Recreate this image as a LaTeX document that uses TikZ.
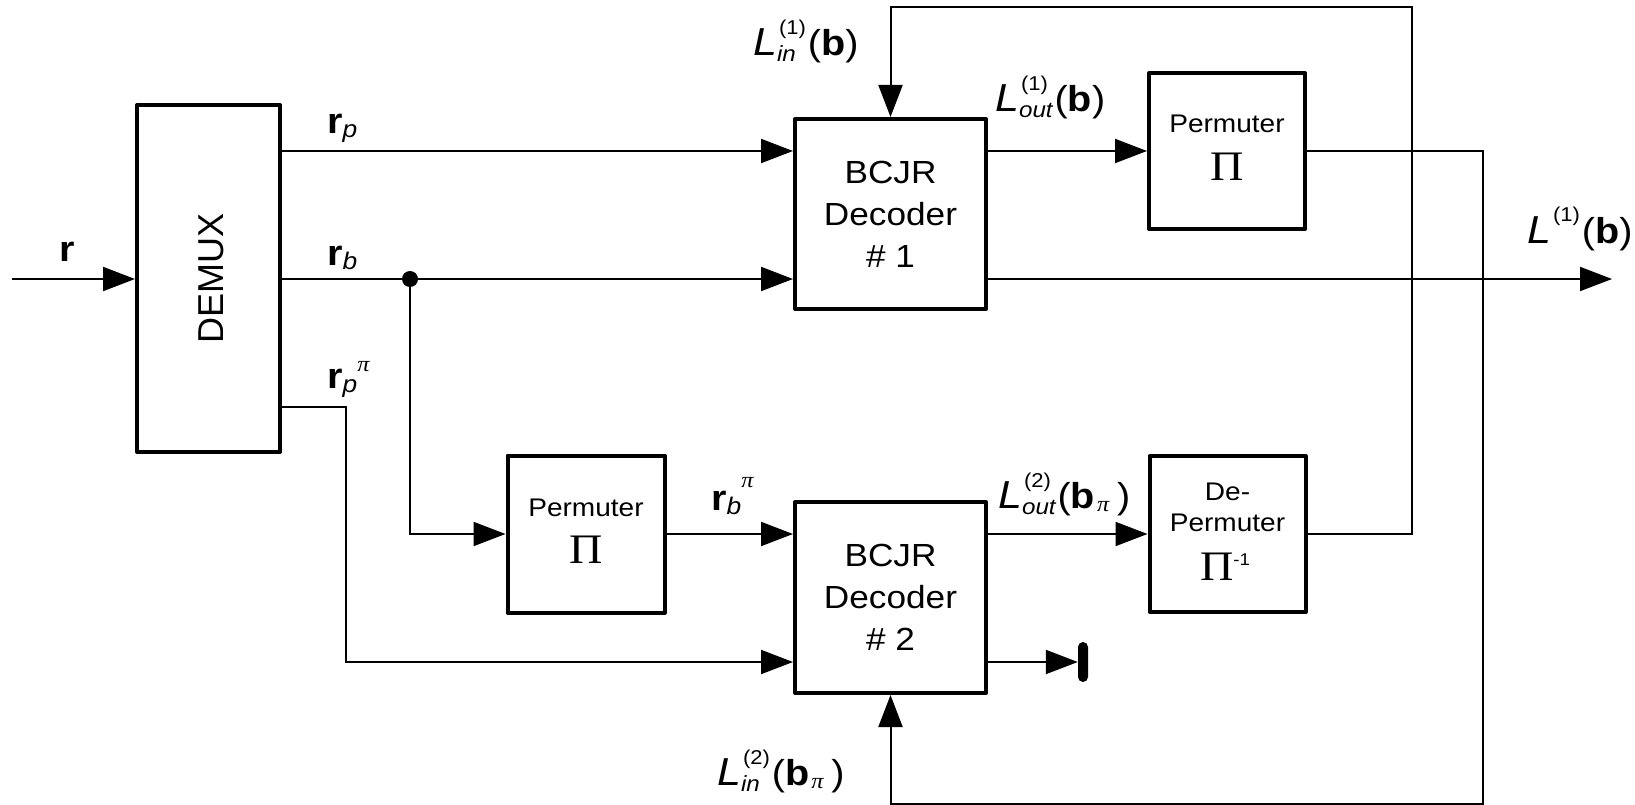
\documentclass[tikz,border=0pt]{standalone}
\usepackage{fontspec}
\setmainfont{Liberation Sans}[FakeStretch=1.1]
\newfontfamily\plainsans{Liberation Sans}
\newfontfamily\grk{Liberation Serif}[FakeStretch=1.1]
\usetikzlibrary{arrows.meta}

\newcommand\fsz[1]{\fontsize{#1}{#1}\selectfont}
% bold r with an italic subscript
\newcommand\rsym[1]{{\fsz{36}\bfseries r}\raisebox{-4pt}{\fsz{24}\itshape #1}}
% serif italic pi, raised by #1
\newcommand\pitop[1]{\raisebox{#1}{\fsz{22}\grk\itshape π}}
% superscript and subscript stacked at the same place
\newcommand\supsub[2]{%
  \setbox0\hbox{\kern2pt\raisebox{21pt}{\fsz{20}#1}}%
  \setbox2\hbox{\raisebox{-6pt}{\fsz{22}\itshape #2}}%
  \ifdim\wd0>\wd2 \rlap{\copy2}\copy0\else\rlap{\copy0}\copy2\fi}
\newcommand\Lsym[3]{{\fsz{39}\itshape L}\supsub{(#1)}{#2}\kern2pt{\fsz{36}(#3)}}
\newcommand\bsym{\textbf{b}}
\newcommand\bpisym{\textbf{b}\kern2pt\raisebox{-3pt}{\fsz{22}\grk\itshape π}\kern8pt}

\begin{document}
\begin{tikzpicture}[x=1pt,y=-1pt,
  blk/.style={draw,line width=4pt,line join=round,inner sep=0pt},
  wire/.style={line width=2pt},
  arr/.style={wire,-{Triangle[length=32pt,width=24pt]}},
  lbl/.style={inner sep=0pt,anchor=base west},
  txt/.style={inner sep=0pt,anchor=base}]
\useasboundingbox (0,0) rectangle (1635,805);

% blocks
\node[blk,minimum width=143pt,minimum height=347pt] (demux) at (208.5,278.5) {};
\node[blk,minimum width=191pt,minimum height=190pt] (dec1) at (890.5,214) {};
\node[blk,minimum width=191pt,minimum height=191pt] (dec2) at (890.5,597.5) {};
\node[blk,minimum size=156pt] (perm1) at (1227,151) {};
\node[blk,minimum size=157pt] (perm2) at (586,534) {};
\node[blk,minimum size=156pt] (deperm) at (1227.5,534) {};
\node[fill,rounded corners=5pt,minimum width=10pt,minimum height=40pt,inner sep=0pt] (stop) at (1083,662) {};

% block texts
\node[font=\plainsans\fsz{36},rotate=90,inner sep=0pt] (demuxtext) at (211.5,278) {DEMUX};
\node[font=\fontsize{32}{42}\selectfont,align=center,inner sep=0pt] (dec1text) at (dec1) {BCJR\\Decoder\\\# 1};
\node[font=\fontsize{32}{42}\selectfont,align=center,inner sep=0pt] (dec2text) at (dec2) {BCJR\\Decoder\\\# 2};
\node[txt,font=\fsz{25.5}] (perm1a) at (1227,132.3) {Permuter};
\node[txt,font=\grk\fsz{42}] (perm1b) at (1227,180.7) {Π};
\node[txt,font=\fsz{25.5}] (perm2a) at (586,516) {Permuter};
\node[txt,font=\grk\fsz{42}] (perm2b) at (586,563.5) {Π};
\node[txt,font=\fsz{25.5}] (depa) at (1227.5,500) {De-};
\node[txt,font=\fsz{25.5}] (depb) at (1227.5,531.7) {Permuter};
\node[txt] (depc) at (1225,580) {{\grk\fsz{42}Π}\raisebox{15pt}{\fsz{17}-1}};

% wire rows and corners
\coordinate (rin) at (12,279);
\coordinate (out) at (1612,279);
\coordinate (yp) at (0,151);
\coordinate (yb) at (0,279);
\coordinate (ypp) at (0,407);
\coordinate (yq) at (0,662);
\coordinate (kp) at (346,662);
\coordinate (fbR) at (1483,803.5);
\coordinate (fbT) at (1412,7);

% connectors
\draw[arr] (rin) -- (rin -| demux.west);
\draw[arr] (demux.east |- yp) -- (dec1.west |- yp);
\draw[arr] (demux.east |- yb) -- (dec1.west |- yb);
\draw[arr] (dec1.east |- yp) -- (perm1.west);
\draw[arr] (dec1.east |- yb) -- (out);
\node[circle,fill,inner sep=0pt,minimum size=16pt] (dot) at (410,279) {};
\draw[arr] (dot.center) |- (perm2.west);
\draw[arr] (perm2.east) -- (dec2.west |- perm2.east);
\draw[arr] (dec2.east |- deperm.west) -- (deperm.west);
\draw[arr] (demux.east |- ypp) -| (kp) -- (kp -| dec2.west);
\draw[arr] (dec2.east |- yq) -- (stop.west);
\draw[arr] (perm1.east) -| (fbR) -| (dec2.south);
\draw[arr] (deperm.east) -| (fbT) -| (dec1.north);

% signal labels
\node[lbl,font=\fsz{36}\bfseries] (lr) at (59,261.7) {r};
\node[lbl] (lrp) at (327,133.3) {\rsym{p}};
\node[lbl] (lrb) at (327,265) {\rsym{b}};
\node[lbl] (lrpp) at (327,388) {\rsym{p}\pitop{17pt}};
\node[lbl] (lrbp) at (711,510) {\rsym{b}\pitop{23pt}};
\node[lbl] (lin1) at (753,56) {\Lsym{1}{in}{\bsym}};
\node[lbl] (lout1) at (995,112) {\Lsym{1}{out}{\bsym}};
\node[lbl] (lres) at (1527,243) {\Lsym{1}{}{\bsym}};
\node[lbl] (lout2) at (998,508) {\Lsym{2}{out}{\bpisym}};
\node[lbl] (lin2) at (717,785) {\Lsym{2}{in}{\bpisym}};
\end{tikzpicture}
\end{document}
